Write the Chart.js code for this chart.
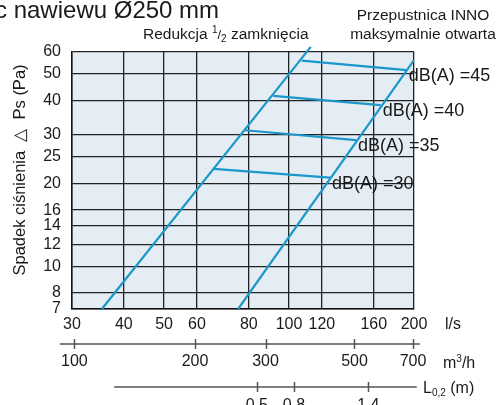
<!DOCTYPE html>
<html>
<head>
<meta charset="utf-8">
<script src="https://cdn.jsdelivr.net/npm/chart.js@4"></script>
<style>
  body { margin: 0; background: #fff; }
</style>
</head>
<body>
<canvas id="noiseChart" width="498" height="405"></canvas>
<script>
const ctx = document.getElementById("noiseChart");

const FONT = '"Liberation Sans", Arial, sans-serif';
const BLUE = "#1b97c9";
const INK = "#1a1a1a";

// tick values of the axes
const flowTicks = [30, 40, 50, 60, 80, 100, 120, 160, 200];
const pressureTicks = [7, 8, 10, 12, 14, 16, 20, 25, 30, 40, 50, 60];
const m3hTicks = [100, 200, 300, 500, 700];
const throwTicks = [0.5, 0.8, 1.4];

// l/s vs Pa
const reductionFlow = [35.4, 112.8];
const reductionPressure = [7, 62.6];
const innoFlow = [75.4, 200];
const innoPressure = [7, 56.1];

const dbLevels = [30, 35, 40, 45];
const dbStartFlow = [65.9, 78.3, 91.6, 107.3];
const dbStartPressure = [22.6, 31.2, 41.6, 55.8];
const dbEndFlow = [125.5, 145, 166.2, 192];
const dbEndPressure = [21.0, 28.7, 38.5, 51.6];

// extent of the two helper axes under the chart
const m3hLine = [92, 728];
const throwLine = [-0.65, 1.79];

function points(xs, ys) {
  return xs.map((x, i) => ({ x: x, y: ys[i] }));
}

const lineStyle = {
  borderColor: BLUE,
  borderWidth: 2.2,
  pointRadius: 0,
  showLine: true,
};

const datasets = [
  { ...lineStyle, label: "reduction", data: points(reductionFlow, reductionPressure), clip: false },
  { ...lineStyle, label: "inno", data: points(innoFlow, innoPressure) },
  ...dbLevels.map((level, i) => ({
    ...lineStyle,
    label: "dB" + level,
    data: [
      { x: dbStartFlow[i], y: dbStartPressure[i] },
      { x: dbEndFlow[i], y: dbEndPressure[i] },
    ],
  })),
];

function drawParts(c, parts, x, y) {
  let cx = x;
  parts.forEach(([text, size, dy]) => {
    c.font = size + "px " + FONT;
    c.fillText(text, cx, y + (dy || 0));
    cx += c.measureText(text).width;
  });
  return cx;
}

const background = {
  id: "background",
  beforeDraw(chart) {
    const c = chart.ctx;
    const a = chart.chartArea;
    c.save();
    c.fillStyle = "#fff";
    c.fillRect(0, 0, chart.width, chart.height);
    c.fillStyle = "#e4edf4";
    c.fillRect(a.left, a.top, a.right - a.left, a.bottom - a.top);
    c.restore();
  },
};

const decorations = {
  id: "decorations",
  afterDraw(chart) {
    const c = chart.ctx;
    const a = chart.chartArea;
    const xs = chart.scales.x;
    const ys = chart.scales.y;
    c.save();
    c.fillStyle = INK;
    c.textBaseline = "middle";

    // dB(A) labels at the end of each line
    c.font = "18px " + FONT;
    c.textAlign = "left";
    dbLevels.forEach((level, i) => {
      const px = xs.getPixelForValue(dbEndFlow[i]);
      const py = ys.getPixelForValue(dbEndPressure[i]);
      c.fillText("dB(A) =" + level, px + 2, py + 6);
    });

    // m3/h axis
    const m3h = chart.scales.m3h;
    const yM = a.bottom + 35;
    c.strokeStyle = "#555";
    c.lineWidth = 1.5;
    c.beginPath();
    c.moveTo(m3h.getPixelForValue(m3hLine[0]), yM);
    c.lineTo(m3h.getPixelForValue(m3hLine[1]), yM);
    m3hTicks.forEach((v) => {
      const px = Math.round(m3h.getPixelForValue(v)) + 0.5;
      c.moveTo(px, yM - 5);
      c.lineTo(px, yM + 5);
    });
    c.stroke();
    c.font = "16px " + FONT;
    c.textAlign = "center";
    m3hTicks.forEach((v) => {
      c.fillText(String(v), m3h.getPixelForValue(v), yM + 18);
    });

    // L0,2 axis
    const thr = chart.scales.throw;
    const yL = a.bottom + 78;
    c.beginPath();
    c.moveTo(thr.getPixelForValue(throwLine[0]), yL);
    c.lineTo(thr.getPixelForValue(throwLine[1]), yL);
    throwTicks.forEach((v) => {
      const px = Math.round(thr.getPixelForValue(v)) + 0.5;
      c.moveTo(px, yL - 5);
      c.lineTo(px, yL + 5);
    });
    c.stroke();
    throwTicks.forEach((v) => {
      c.fillText(v.toFixed(1), thr.getPixelForValue(v), yL + 19);
    });

    // units
    c.textAlign = "left";
    c.textBaseline = "alphabetic";
    drawParts(c, [["l/s", 16]], a.right + 31, a.bottom + 20);
    drawParts(c, [["m", 16], ["3", 10, -6], ["/h", 16]], a.right + 29, yM + 24);
    drawParts(c, [["L", 16], ["0,2", 10, 3], [" (m)", 16]], a.right + 9, yL + 6);

    // titles above the chart
    drawParts(c, [["c nawiewu Ø250 mm", 24]], -5, 18);
    drawParts(c, [["Redukcja ", 15.5], ["1", 10, -6], ["/", 13], ["2", 10, 3], [" zamknięcia", 15.5]], 143, 39);
    c.font = "15.5px " + FONT;
    c.textAlign = "center";
    c.fillText("Przepustnica INNO", 423, 20);
    c.fillText("maksymalnie otwarta", 423, 39);

    // y axis title
    c.translate(20, 170);
    c.rotate(-Math.PI / 2);
    c.font = "16.5px " + FONT;
    c.textBaseline = "middle";
    c.fillText("Spadek ciśnienia  △  Ps (Pa)", 0, 0);
    c.restore();
  },
};

const axisFont = { family: FONT, size: 16 };
const gridStyle = { color: "#222", lineWidth: 1.3, drawTicks: false };
const borderStyle = { display: true, color: "#111", width: 1.5 };

new Chart(ctx, {
  type: "scatter",
  data: { datasets: datasets },
  options: {
    responsive: false,
    animation: false,
    devicePixelRatio: 1,
    layout: { padding: { top: 52, right: 84, left: 0, bottom: 0 } },
    plugins: {
      legend: { display: false },
      tooltip: { enabled: false },
    },
    scales: {
      x: {
        type: "logarithmic",
        min: 30,
        max: 200,
        afterBuildTicks: (scale) => {
          scale.ticks = flowTicks.map((v) => ({ value: v }));
        },
        afterFit: (scale) => {
          scale.height = 96;
        },
        ticks: {
          callback: (v) => String(v),
          font: axisFont,
          color: INK,
          padding: 6,
          autoSkip: false,
          maxRotation: 0,
        },
        grid: gridStyle,
        border: borderStyle,
      },
      y: {
        type: "logarithmic",
        min: 7,
        max: 60,
        afterBuildTicks: (scale) => {
          scale.ticks = pressureTicks.map((v) => ({ value: v }));
        },
        afterFit: (scale) => {
          scale.width = 72;
        },
        ticks: {
          callback: (v) => String(v),
          font: axisFont,
          color: INK,
          padding: 11,
          autoSkip: false,
        },
        grid: gridStyle,
        border: borderStyle,
      },
      m3h: {
        type: "logarithmic",
        axis: "x",
        position: "bottom",
        display: false,
        min: 98.65,
        max: 703.9,
      },
      throw: {
        type: "linear",
        axis: "x",
        position: "bottom",
        display: false,
        min: -0.99,
        max: 1.768,
      },
    },
  },
  plugins: [background, decorations],
});
</script>
</body>
</html>
